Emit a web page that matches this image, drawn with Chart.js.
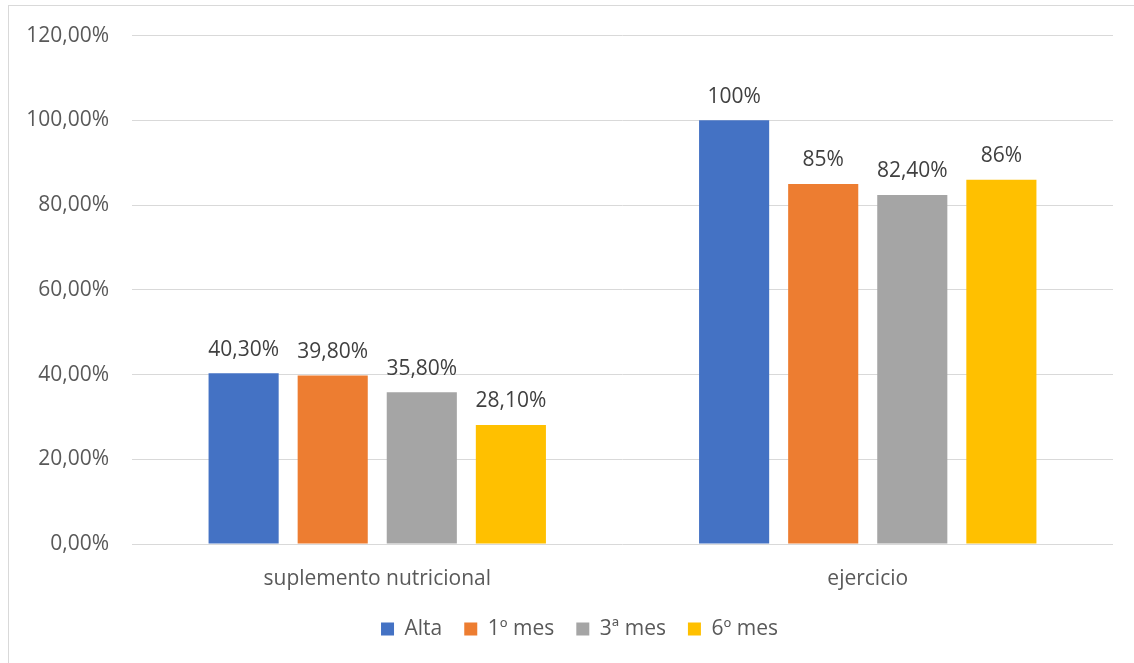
<!DOCTYPE html>
<html>
<head>
<meta charset="utf-8">
<script src="https://cdn.jsdelivr.net/npm/chart.js@4"></script>
<style>
  html, body { margin: 0; padding: 0; background: #ffffff; }
  #wrap { width: 1134px; height: 663px; position: relative; }
</style>
</head>
<body>
<div id="wrap"><canvas id="c" width="1134" height="663"></canvas></div>
<script>
// Categories and series (percent values)
const categories = ['suplemento nutricional', 'ejercicio'];
const seriesNames = ['Alta', '1º mes', '3ª mes', '6º mes'];
const alta = [40.3, 100];
const mes1 = [39.8, 85];
const mes3 = [35.8, 82.4];
const mes6 = [28.1, 86];
// Value labels printed above each bar
const altaLabels = ['40,30%', '100%'];
const mes1Labels = ['39,80%', '85%'];
const mes3Labels = ['35,80%', '82,40%'];
const mes6Labels = ['28,10%', '86%'];
// Y axis ticks
const yMin = 0, yMax = 120, yStep = 20;

const colors = ['#4472C4', '#ED7D31', '#A5A5A5', '#FFC000'];
const FONT = "'Open Sans', 'DejaVu Sans', sans-serif";
const FS = 21;

const seriesValues = [alta, mes1, mes3, mes6];
const seriesLabels = [altaLabels, mes1Labels, mes3Labels, mes6Labels];

// Light frame around the whole chart
const framePlugin = {
  id: 'frame',
  beforeDraw(chart) {
    const ctx = chart.ctx;
    ctx.save();
    ctx.fillStyle = '#ffffff';
    ctx.fillRect(0, 0, chart.width, chart.height);
    ctx.strokeStyle = '#d9d9d9';
    ctx.lineWidth = 1;
    ctx.strokeRect(8.5, 5.5, chart.width + 20, chart.height + 20);
    ctx.restore();
  }
};

// Value labels above bars
const valueLabelPlugin = {
  id: 'valueLabels',
  afterDatasetsDraw(chart) {
    const ctx = chart.ctx;
    ctx.save();
    ctx.font = `${FS}px ${FONT}`;
    ctx.fillStyle = '#404040';
    ctx.textAlign = 'center';
    ctx.textBaseline = 'alphabetic';
    chart.data.datasets.forEach((ds, i) => {
      const meta = chart.getDatasetMeta(i);
      meta.data.forEach((bar, j) => {
        ctx.fillText(seriesLabels[i][j], bar.x, bar.y - 17.5);
      });
    });
    ctx.restore();
  }
};

// Shift the legend so it is centred on the full frame width
const legendShiftPlugin = {
  id: 'legendShift',
  afterLayout(chart) {
    const dx = 19;
    if (chart.legend) {
      chart.legend.left += dx;
      chart.legend.right += dx;
    }
  }
};

new Chart(document.getElementById('c'), {
  type: 'bar',
  data: {
    labels: categories,
    datasets: seriesNames.map((name, i) => ({
      label: name,
      data: seriesValues[i],
      backgroundColor: colors[i],
      borderWidth: 0,
      categoryPercentage: 0.7265,
      barPercentage: 0.787
    }))
  },
  options: {
    responsive: false,
    animation: false,
    devicePixelRatio: 1,
    layout: { padding: { left: 8, right: 21, top: 35, bottom: 13.5 } },
    plugins: {
      legend: {
        position: 'bottom',
        labels: {
          boxWidth: 13,
          boxHeight: 13,
          padding: 22,
          color: '#595959',
          font: { family: FONT, size: FS }
        }
      },
      tooltip: { enabled: false }
    },
    scales: {
      x: {
        grid: { display: false },
        border: { display: false },
        ticks: {
          color: '#595959',
          padding: 14,
          font: { family: FONT, size: FS }
        },
        afterFit(scale) { scale.height = 52.5; }
      },
      y: {
        min: yMin,
        max: yMax,
        grid: { color: '#d9d9d9', lineWidth: 1, drawTicks: false },
        border: { display: false },
        ticks: {
          stepSize: yStep,
          padding: 23,
          color: '#595959',
          font: { family: FONT, size: FS },
          callback: (v) => v.toFixed(2).replace('.', ',') + '%'
        },
        afterFit(scale) { scale.width = 124; }
      }
    }
  },
  plugins: [framePlugin, valueLabelPlugin, legendShiftPlugin]
});
</script>
</body>
</html>
